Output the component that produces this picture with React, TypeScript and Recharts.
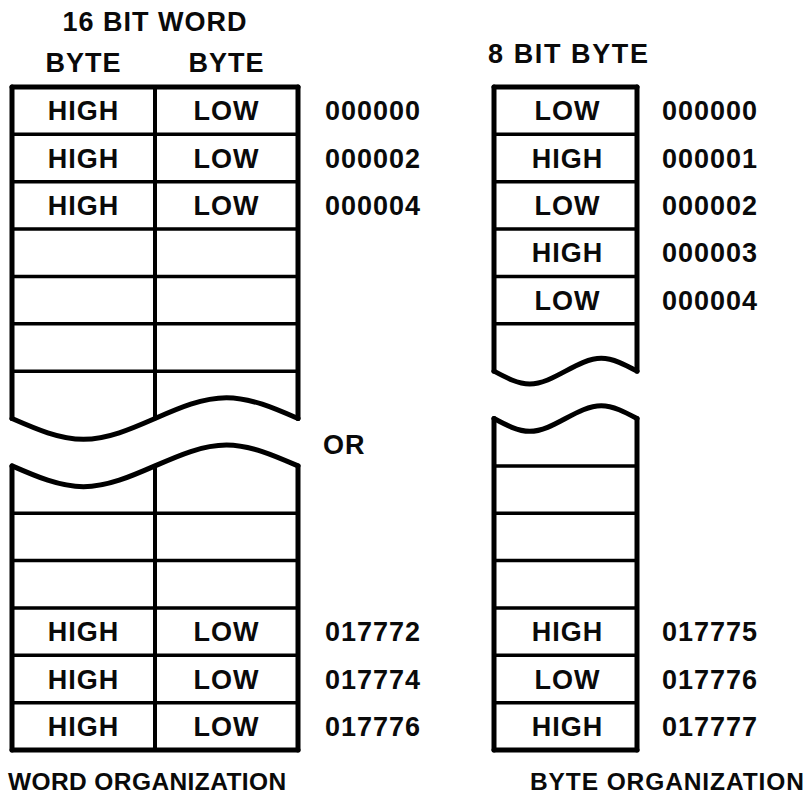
import React from "react";
import { ComposedChart, Line, ReferenceLine, Scatter, XAxis, YAxis } from "recharts";

// ---- chart data ----
const wordTitle = "16 BIT WORD";
const wordColumns = ["BYTE", "BYTE"];
const wordTopCells = [
  ["HIGH", "LOW"],
  ["HIGH", "LOW"],
  ["HIGH", "LOW"],
  ["", ""],
  ["", ""],
  ["", ""],
];
const wordTopAddresses = ["000000", "000002", "000004"];
const wordBottomCells = [
  ["", ""],
  ["", ""],
  ["HIGH", "LOW"],
  ["HIGH", "LOW"],
  ["HIGH", "LOW"],
];
const wordBottomAddresses = ["017772", "017774", "017776"];
const wordCaption = "WORD ORGANIZATION";

const byteTitle = "8 BIT BYTE";
const byteTopCells = ["LOW", "HIGH", "LOW", "HIGH", "LOW"];
const byteTopAddresses = ["000000", "000001", "000002", "000003", "000004"];
const byteBottomCells = ["", "", "", "HIGH", "LOW", "HIGH"];
const byteBottomAddresses = ["017775", "017776", "017777"];
const byteCaption = "BYTE ORGANIZATION";

const separator = "OR";

// break curve shape (one sine-like wave across the table)
const waveFractions = [0, 0.25, 0.5, 0.75, 1];
const waveShape = [0, 1, 0, -1, 0];

// ---- layout ----
const WIDTH = 812;
const HEIGHT = 804;
const TOP_PX = 87;
const ROW_PX = 47.36;
const ROWS = 14;
const Y_DOMAIN = [-TOP_PX / ROW_PX, (HEIGHT - TOP_PX) / ROW_PX];

const WORD = { left: 12, mid: 155, right: 298, addr: 325, amp: 0.44 };
const BYTE = { left: 494, right: 637, addr: 662, amp: 0.27 };
const WORD_BREAK_TOP = wordTopCells.length + 1; // wavy bottom edge row
const WORD_BREAK_BOTTOM = ROWS - wordBottomCells.length - 1;
const BYTE_BREAK_TOP = byteTopCells.length + 1;
const BYTE_BREAK_BOTTOM = ROWS - byteBottomCells.length - 1;

const OUTER = 5;
const INNER = 3.5;
const FONT = "'Liberation Sans', Arial, Helvetica, sans-serif";

const wave = (left: number, right: number, row: number, amp: number) =>
  waveFractions.map((f, i) => ({ x: left + f * (right - left), y: row + waveShape[i] * amp }));

type Seg = { x1: number; y1: number; x2: number; y2: number; w: number };
const segs: Seg[] = [];
const hline = (x1: number, x2: number, y: number, w: number) => segs.push({ x1, y1: y, x2, y2: y, w });
const vline = (x: number, y1: number, y2: number, w: number) => segs.push({ x1: x, y1, x2: x, y2, w });

// word table
hline(WORD.left, WORD.right, 0, OUTER);
for (let r = 1; r <= wordTopCells.length; r++) hline(WORD.left, WORD.right, r, INNER);
vline(WORD.left, 0, WORD_BREAK_TOP, OUTER);
vline(WORD.right, 0, WORD_BREAK_TOP, OUTER);
vline(WORD.mid, 0, WORD_BREAK_TOP, INNER + 0.5);
for (let r = WORD_BREAK_BOTTOM + 1; r < ROWS; r++) hline(WORD.left, WORD.right, r, INNER);
hline(WORD.left, WORD.right, ROWS, OUTER);
vline(WORD.left, WORD_BREAK_BOTTOM, ROWS, OUTER);
vline(WORD.right, WORD_BREAK_BOTTOM, ROWS, OUTER);
vline(WORD.mid, WORD_BREAK_BOTTOM, ROWS, INNER + 0.5);

// byte table
hline(BYTE.left, BYTE.right, 0, OUTER);
for (let r = 1; r <= byteTopCells.length; r++) hline(BYTE.left, BYTE.right, r, INNER);
vline(BYTE.left, 0, BYTE_BREAK_TOP, OUTER);
vline(BYTE.right, 0, BYTE_BREAK_TOP, OUTER);
for (let r = BYTE_BREAK_BOTTOM + 1; r < ROWS; r++) hline(BYTE.left, BYTE.right, r, INNER);
hline(BYTE.left, BYTE.right, ROWS, OUTER);
vline(BYTE.left, BYTE_BREAK_BOTTOM, ROWS, OUTER);
vline(BYTE.right, BYTE_BREAK_BOTTOM, ROWS, OUTER);

const waves = [
  wave(WORD.left, WORD.right, WORD_BREAK_TOP, WORD.amp),
  wave(WORD.left, WORD.right, WORD_BREAK_BOTTOM, WORD.amp),
  wave(BYTE.left, BYTE.right, BYTE_BREAK_TOP, BYTE.amp),
  wave(BYTE.left, BYTE.right, BYTE_BREAK_BOTTOM, BYTE.amp),
];

// ---- text labels ----
type Lbl = { x: number; y: number; text: string; size?: number; anchor?: string; spacing?: number };
const labels: Lbl[] = [];
const wordColX = [(WORD.left + WORD.mid) / 2, (WORD.mid + WORD.right) / 2];
const byteColX = (BYTE.left + BYTE.right) / 2 + 2;

labels.push({ x: WORD.mid, y: -1.39, text: wordTitle });
wordColumns.forEach((c, i) => labels.push({ x: wordColX[i], y: -0.53, text: c }));
wordTopCells.forEach((row, r) =>
  row.forEach((t, c) => t && labels.push({ x: wordColX[c], y: r + 0.5, text: t }))
);
wordTopAddresses.forEach((a, i) => labels.push({ x: WORD.addr, y: i + 0.5, text: a, anchor: "start" }));
wordBottomCells.forEach((row, r) =>
  row.forEach((t, c) => t && labels.push({ x: wordColX[c], y: WORD_BREAK_BOTTOM + 1 + r + 0.5, text: t }))
);
wordBottomAddresses.forEach((a, i) =>
  labels.push({ x: WORD.addr, y: ROWS - wordBottomAddresses.length + i + 0.5, text: a, anchor: "start" })
);
labels.push({ x: 8, y: 14.65, text: wordCaption, anchor: "start", size: 24.5, spacing: 0.4 });

labels.push({ x: 488, y: -0.72, text: byteTitle, anchor: "start", spacing: 1.6 });
byteTopCells.forEach((t, r) => labels.push({ x: byteColX, y: r + 0.5, text: t }));
byteTopAddresses.forEach((a, i) => labels.push({ x: BYTE.addr, y: i + 0.5, text: a, anchor: "start" }));
byteBottomCells.forEach(
  (t, r) => t && labels.push({ x: byteColX, y: BYTE_BREAK_BOTTOM + 1 + r + 0.5, text: t })
);
byteBottomAddresses.forEach((a, i) =>
  labels.push({ x: BYTE.addr, y: ROWS - byteBottomAddresses.length + i + 0.5, text: a, anchor: "start" })
);
labels.push({ x: 530, y: 14.65, text: byteCaption, anchor: "start", size: 24.5, spacing: 0.9 });

labels.push({ x: 323, y: 7.54, text: separator, anchor: "start" });

const LabelShape = (props: any) => {
  const { cx, cy, payload } = props;
  const size = payload.size ?? 27;
  return (
    <text
      x={cx}
      y={cy + size * 0.36}
      textAnchor={payload.anchor ?? "middle"}
      fontSize={size}
      fontWeight="bold"
      fontFamily={FONT}
      letterSpacing={payload.spacing ?? 1}
      fill="#0a0a0a"
    >
      {payload.text}
    </text>
  );
};

export default function App() {
  return (
    <div style={{ position: "absolute", left: 0, top: 0, width: WIDTH, height: HEIGHT, background: "#fff" }}>
      <ComposedChart width={WIDTH} height={HEIGHT} margin={{ top: 0, right: 0, bottom: 0, left: 0 }}>
        <XAxis type="number" dataKey="x" domain={[0, WIDTH]} allowDataOverflow hide />
        <YAxis type="number" dataKey="y" domain={Y_DOMAIN} allowDataOverflow reversed hide />
        {segs.map((s, i) => (
          <ReferenceLine
            key={`s${i}`}
            segment={[
              { x: s.x1, y: s.y1 },
              { x: s.x2, y: s.y2 },
            ]}
            stroke="#000"
            strokeWidth={s.w}
            strokeLinecap="round"
            ifOverflow="visible"
          />
        ))}
        {waves.map((w, i) => (
          <Line
            key={`w${i}`}
            data={w}
            dataKey="y"
            type="natural"
            dot={false}
            activeDot={false}
            stroke="#000"
            strokeWidth={OUTER}
            strokeLinecap="round"
            isAnimationActive={false}
          />
        ))}
        <Scatter data={labels} dataKey="y" shape={LabelShape} isAnimationActive={false} />
      </ComposedChart>
    </div>
  );
}
